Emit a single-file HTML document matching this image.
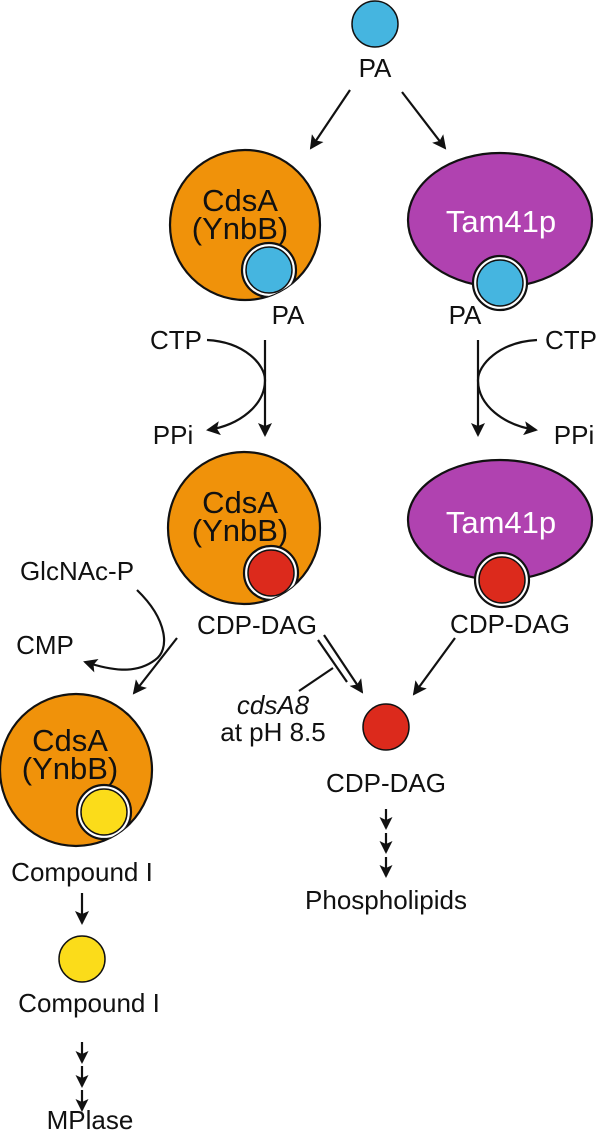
<!DOCTYPE html>
<html><head><meta charset="utf-8"><style>
html,body{margin:0;padding:0;background:#fff;}
svg{display:block;font-family:"Liberation Sans",Arial,sans-serif;}
</style></head><body>
<svg width="600" height="1130" viewBox="0 0 600 1130" xmlns="http://www.w3.org/2000/svg">
<defs>
<marker id="ah" markerWidth="13" markerHeight="13" refX="11" refY="6.5" orient="auto" markerUnits="userSpaceOnUse" viewBox="0 0 13 13">
<path d="M0,0 L13,6.5 L0,13 L3,6.5 z" fill="#111"/></marker>
<marker id="ah2" markerWidth="14" markerHeight="14" refX="12" refY="7" orient="auto" markerUnits="userSpaceOnUse" viewBox="0 0 14 14">
<path d="M0,0 L14,7 L0,14 L3,7 z" fill="#111"/></marker>
<clipPath id="c1"><circle cx="245" cy="225" r="75"/></clipPath>
<clipPath id="c2"><circle cx="244" cy="528" r="76"/></clipPath>
<clipPath id="c3"><circle cx="76" cy="770" r="76"/></clipPath>
</defs>
<g stroke="#111" stroke-width="2.2" fill="none">
<circle cx="375" cy="24" r="23" fill="#45b5e0" stroke-width="1.5"/>
<line x1="350" y1="90" x2="311" y2="148" marker-end="url(#ah2)"/>
<line x1="402" y1="92" x2="445" y2="148" marker-end="url(#ah2)"/>

<circle cx="245" cy="225" r="75" fill="#f0920a"/>
<circle cx="269" cy="270" r="27" fill="#fff" clip-path="url(#c1)"/>
<circle cx="269" cy="270" r="23" fill="#45b5e0" stroke-width="1.5"/>
<ellipse cx="500" cy="220" rx="92" ry="67" fill="#b042b0"/>
<circle cx="500" cy="283" r="27" fill="#fff"/>
<circle cx="500" cy="283" r="23" fill="#45b5e0" stroke-width="1.5"/>

<line x1="265" y1="340" x2="265" y2="435" marker-end="url(#ah2)"/>
<path d="M207,340 C245,342 265,365 265,380 C265,405 240,425 208,430" marker-end="url(#ah2)"/>
<line x1="478" y1="340" x2="478" y2="435" marker-end="url(#ah2)"/>
<path d="M537,340 C499,342 478,365 478,380 C478,405 503,425 536,430" marker-end="url(#ah2)"/>

<circle cx="244" cy="528" r="76" fill="#f0920a"/>
<circle cx="271" cy="573" r="27" fill="#fff" clip-path="url(#c2)"/>
<circle cx="271" cy="573" r="23" fill="#dc2a1c" stroke-width="1.5"/>
<ellipse cx="500" cy="520" rx="92" ry="60" fill="#b042b0"/>
<circle cx="502" cy="580" r="27" fill="#fff"/>
<circle cx="502" cy="580" r="23" fill="#dc2a1c" stroke-width="1.5"/>

<path d="M137,590 C168,620 170,650 155,660 C135,675 110,670 85,662" marker-end="url(#ah2)"/>
<line x1="177" y1="638" x2="134" y2="693" marker-end="url(#ah2)"/>

<line x1="324" y1="635" x2="362" y2="692" marker-end="url(#ah2)"/>
<line x1="318" y1="640" x2="347" y2="682"/>
<line x1="333" y1="668" x2="299" y2="691"/>
<line x1="455" y1="638" x2="414" y2="694" marker-end="url(#ah2)"/>

<circle cx="386" cy="727" r="23" fill="#dc2a1c" stroke-width="1.5"/>
<line x1="386" y1="809" x2="386" y2="828" marker-end="url(#ah)"/>
<line x1="386" y1="833" x2="386" y2="852" marker-end="url(#ah)"/>
<line x1="386" y1="857" x2="386" y2="876" marker-end="url(#ah)"/>

<circle cx="76" cy="770" r="76" fill="#f0920a"/>
<circle cx="104" cy="812" r="27" fill="#fff" clip-path="url(#c3)"/>
<circle cx="104" cy="812" r="23" fill="#fbdc1a" stroke-width="1.5"/>
<line x1="82" y1="893" x2="82" y2="923" marker-end="url(#ah2)"/>
<circle cx="82" cy="959" r="23" fill="#fbdc1a" stroke-width="1.5"/>
<line x1="82" y1="1042" x2="82" y2="1062" marker-end="url(#ah)"/>
<line x1="82" y1="1066" x2="82" y2="1086" marker-end="url(#ah)"/>
<line x1="82" y1="1090" x2="82" y2="1110" marker-end="url(#ah)"/>
</g>
<g fill="#111" font-size="26" text-anchor="middle">
<text x="375" y="77">PA</text>
<text x="240" y="211" font-size="31">CdsA</text>
<text x="240" y="239" font-size="31">(YnbB)</text>
<text x="501" y="232" font-size="31" fill="#fff">Tam41p</text>
<text x="288" y="324">PA</text>
<text x="465" y="324">PA</text>
<text x="176" y="349">CTP</text>
<text x="173" y="444">PPi</text>
<text x="571" y="349">CTP</text>
<text x="574" y="444">PPi</text>
<text x="240" y="513" font-size="31">CdsA</text>
<text x="240" y="541" font-size="31">(YnbB)</text>
<text x="501" y="533" font-size="31" fill="#fff">Tam41p</text>
<text x="257" y="634">CDP-DAG</text>
<text x="510" y="633">CDP-DAG</text>
<text x="77" y="580">GlcNAc-P</text>
<text x="45" y="654">CMP</text>
<text x="273" y="714" font-style="italic">cdsA8</text>
<text x="273" y="741">at pH 8.5</text>
<text x="386" y="792">CDP-DAG</text>
<text x="386" y="909">Phospholipids</text>
<text x="70" y="751" font-size="31">CdsA</text>
<text x="70" y="779" font-size="31">(YnbB)</text>
<text x="82" y="881">Compound I</text>
<text x="89" y="1012">Compound I</text>
<text x="90" y="1129">MPlase</text>
</g>
</svg>
</body></html>
